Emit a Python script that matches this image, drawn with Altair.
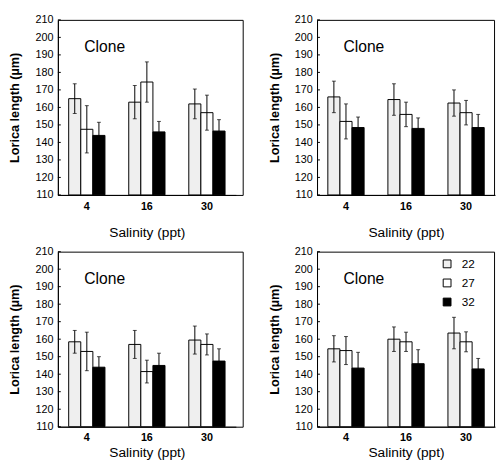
import altair as alt
import pandas as pd

salinity = ["4", "16", "30"]
temps = ["22", "27", "32"]

# panel 1 (top left)
p1_t22 = [165.0, 163.0, 162.0]
p1_t22_err = [8.5, 9.5, 8.5]
p1_t27 = [147.5, 174.5, 157.0]
p1_t27_err = [13.5, 11.5, 10.0]
p1_t32 = [144.0, 146.0, 146.5]
p1_t32_err = [7.5, 6.0, 6.5]

# panel 2 (top right)
p2_t22 = [166.0, 164.5, 162.5]
p2_t22_err = [9.0, 9.0, 7.5]
p2_t27 = [152.0, 156.0, 157.0]
p2_t27_err = [10.0, 7.0, 7.0]
p2_t32 = [148.5, 148.0, 148.5]
p2_t32_err = [6.0, 6.0, 7.5]

# panel 3 (bottom left)
p3_t22 = [158.5, 157.0, 159.5]
p3_t22_err = [6.5, 8.0, 8.0]
p3_t27 = [153.0, 141.5, 157.0]
p3_t27_err = [11.0, 6.5, 6.0]
p3_t32 = [144.0, 145.0, 147.5]
p3_t32_err = [6.0, 7.0, 7.0]

# panel 4 (bottom right)
p4_t22 = [154.5, 160.0, 163.5]
p4_t22_err = [7.5, 7.0, 9.0]
p4_t27 = [153.5, 158.5, 158.5]
p4_t27_err = [8.0, 5.5, 5.7]
p4_t32 = [143.5, 146.0, 143.0]
p4_t32_err = [9.0, 8.0, 6.0]

y_ticks = list(range(110, 211, 10))
fill_colors = ["#efefef", "#ffffff", "#000000"]
FONT = "Liberation Sans"


def make_df(series):
    rows = []
    for temp, (vals, errs) in zip(temps, series):
        for s, v, e in zip(salinity, vals, errs):
            rows.append({"salinity": s, "temp": temp, "mean": v,
                         "lo": v - e, "hi": v + e})
    return pd.DataFrame(rows)


def panel(series, width, legend, title_pad, label_pad):
    d = make_df(series)
    base = alt.Chart(d)
    x = alt.X("salinity:N", sort=salinity,
              scale=alt.Scale(range=[0, 182], paddingInner=0.396, paddingOuter=0.18),
              axis=alt.Axis(title="Salinity (ppt)", labelAngle=0,
                            titlePadding=title_pad, labelPadding=label_pad))
    xo = alt.XOffset("temp:N", sort=temps,
                     scale=alt.Scale(paddingInner=0, paddingOuter=0))
    yscale = alt.Scale(domain=[110, 210], zero=False, nice=False)
    yaxis = alt.Axis(values=y_ticks, title="Lorica length (µm)",
                     labelOverlap=False, labelSeparation=0)
    fill_kwargs = dict(sort=temps, scale=alt.Scale(domain=temps, range=fill_colors))
    if legend:
        fill = alt.Fill("temp:N", legend=alt.Legend(
            orient="none", legendX=127, legendY=6.5, title=None,
            symbolType="square", symbolSize=64, symbolStrokeColor="black",
            symbolStrokeWidth=1, labelFontSize=12, labelOffset=9,
            rowPadding=7.5, padding=0, labelFont=FONT, labelColor="black"),
            **fill_kwargs)
    else:
        fill = alt.Fill("temp:N", legend=None, **fill_kwargs)
    bars = base.mark_bar(stroke="black", strokeWidth=1).encode(
        x=x, xOffset=xo, y=alt.Y("mean:Q", scale=yscale, axis=yaxis),
        y2=alt.datum(110), fill=fill)
    rules = base.mark_rule(color="black", strokeWidth=1).encode(
        x=x, xOffset=xo, y=alt.Y("lo:Q", scale=yscale, axis=yaxis), y2="hi:Q")
    cap_hi = base.mark_tick(color="black", size=4, thickness=1).encode(
        x=x, xOffset=xo, y=alt.Y("hi:Q", scale=yscale, axis=yaxis))
    cap_lo = base.mark_tick(color="black", size=4, thickness=1).encode(
        x=x, xOffset=xo, y=alt.Y("lo:Q", scale=yscale, axis=yaxis))
    ticks_in = alt.Chart(pd.DataFrame({"v": y_ticks})).mark_rule(
        color="black", strokeWidth=1
    ).encode(y=alt.Y("v:Q", scale=yscale, axis=yaxis),
             x=alt.value(0), x2=alt.value(3))
    label = alt.Chart(pd.DataFrame({"t": ["Clone"]})).mark_text(
        align="left", baseline="middle", fontSize=16, font=FONT, color="black"
    ).encode(text="t:N", x=alt.value(27), y=alt.value(28))
    return alt.layer(bars, rules, cap_hi, cap_lo, ticks_in, label).properties(
        width=width, height=179)


p1 = panel([(p1_t22, p1_t22_err), (p1_t27, p1_t27_err), (p1_t32, p1_t32_err)], 189, False, 15, 6)
p2 = panel([(p2_t22, p2_t22_err), (p2_t27, p2_t27_err), (p2_t32, p2_t32_err)], 181, False, 15, 6)
p3 = panel([(p3_t22, p3_t22_err), (p3_t27, p3_t27_err), (p3_t32, p3_t32_err)], 189, False, 3, 5)
p4 = panel([(p4_t22, p4_t22_err), (p4_t27, p4_t27_err), (p4_t32, p4_t32_err)], 181, True, 3, 5)

row1 = alt.hconcat(p1, p2, spacing=24).resolve_scale(fill="independent")
row2 = alt.hconcat(p3, p4, spacing=24).resolve_scale(fill="independent")

chart = alt.vconcat(row1, row2, spacing=4).resolve_scale(
    fill="independent"
).configure(
    font=FONT, padding=0
).configure_view(
    stroke="black", strokeWidth=1
).configure_axis(
    domainColor="black", ticks=False, tickSize=0, labelColor="black", titleColor="black",
    labelFont=FONT, titleFont=FONT, labelFontSize=11, labelPadding=5,
    grid=False
).configure_axisY(
    titleFontSize=13, titleFontWeight="bold", titlePadding=13.5, labelOverlap=False
).configure_axisX(
    titleFontSize=14, titleFontWeight="normal", labelFontWeight="bold"
)

chart.save("out.html", embed_options={"renderer": "svg", "actions": False})
